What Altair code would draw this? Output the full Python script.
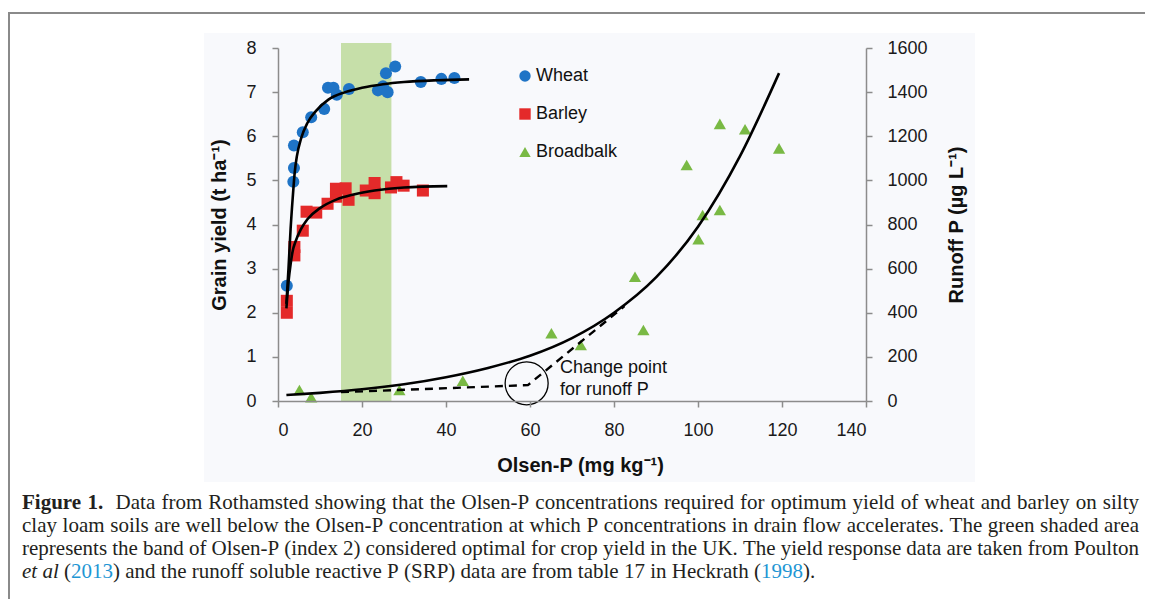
import altair as alt
import pandas as pd

# ---------------- data ----------------
wheat_x = [2.1, 3.65, 3.8, 3.8, 5.9, 7.9, 11.0, 11.9, 13.2, 14.0, 16.9, 23.8, 25.0, 26.1, 25.7, 27.9, 34.0, 38.9, 42.0]
wheat_y = [2.61, 4.97, 5.28, 5.79, 6.09, 6.43, 6.62, 7.10, 7.10, 6.94, 7.07, 7.04, 7.13, 7.00, 7.43, 7.58, 7.23, 7.30, 7.32]

barley_x = [2.1, 2.1, 3.9, 3.9, 5.9, 6.8, 9.1, 11.8, 13.8, 13.8, 16.1, 16.8, 20.9, 23.0, 23.0, 26.9, 28.2, 29.9, 34.5]
barley_y = [2.27, 2.0, 3.49, 3.30, 3.86, 4.29, 4.27, 4.47, 4.63, 4.81, 4.82, 4.56, 4.77, 4.94, 4.71, 4.84, 4.96, 4.88, 4.77]

broad_x = [5.1, 7.9, 28.9, 44.0, 65.1, 72.1, 85.0, 87.0, 97.3, 100.1, 101.1, 105.2, 105.2, 111.2, 119.3]
broad_y = [50, 17, 50, 92, 307, 254, 563, 322, 1070, 733, 843, 866, 1256, 1232, 1145]

# fitted curves
wheat_fit_x = [2.0, 2.5, 3.0, 3.5, 4.0, 4.5, 5.5, 7, 9, 12, 16, 20, 25, 30, 38, 45.5]
wheat_fit_y = [2.2, 3.0, 3.9, 4.6, 5.2, 5.55, 5.95, 6.3, 6.57, 6.83, 7.0, 7.1, 7.18, 7.23, 7.27, 7.29]
barley_fit_x = [2.0, 2.5, 3.0, 3.5, 4.2, 5.5, 7, 10, 14, 18, 23, 30, 40.3]
barley_fit_y = [2.1, 2.7, 3.1, 3.4, 3.62, 3.9, 4.12, 4.37, 4.57, 4.68, 4.77, 4.84, 4.87]
runoff_fit_x = [2, 10, 20, 30, 40, 50, 60, 70, 80, 90, 100, 110, 119.3]
runoff_fit_y = [27, 37, 53, 76, 108, 150, 205, 285, 400, 560, 790, 1110, 1486]
change_x = [15, 59.5, 82.5]
change_y = [40, 72, 430]
change_point = (59.2, 80)

band = [15, 27]
series = ["Wheat", "Barley", "Broadbalk"]
colors = ["#1f74c6", "#e42a2a", "#79b944"]
shapes = ["circle", "square", "triangle-up"]

x_ticks = list(range(0, 141, 20))
y_ticks = list(range(0, 9))
r_ticks = list(range(0, 1601, 200))

# caption: runs of (text, style)  n=normal b=bold i=italic l=link
caption_lines = [
    [("Figure 1.", "b"), ("  Data from Rothamsted showing that the Olsen-P concentrations required for optimum yield of wheat and barley on silty", "n")],
    [("clay loam soils are well below the Olsen-P concentration at which P concentrations in drain flow accelerates. The green shaded area", "n")],
    [("represents the band of Olsen-P (index 2) considered optimal for crop yield in the UK. The yield response data are taken from Poulton", "n")],
    [("et al", "i"), (" (", "n"), ("2013", "l"), (") and the runoff soluble reactive P (SRP) data are from table 17 in Heckrath (", "n"), ("1998", "l"), (").", "n")],
]

# ---------------- layout ----------------
W, H = 588, 353
SANS = "Liberation Sans"
SERIF = "Liberation Serif"
AX = "#8c8c8c"

color_scale = alt.Scale(domain=series, range=colors)
shape_scale = alt.Scale(domain=series, range=shapes)
legend = alt.Legend(orient="none", legendX=238, legendY=19, title=None,
                    labelFont=SANS, labelFontSize=18, labelColor="#111111",
                    symbolSize=130, rowPadding=20, labelOffset=2,
                    symbolStrokeWidth=0, symbolOpacity=1)

axis_common = dict(domainColor=AX, domainWidth=1.5, tickColor=AX, tickWidth=1.5, tickSize=6,
                   labelFont=SANS, labelFontSize=18, labelColor="#1a1a1a",
                   titleFont=SANS, titleFontSize=20, titleFontWeight="bold", titleColor="#111111",
                   grid=False, zindex=1)

X = alt.X("x:Q", scale=alt.Scale(domain=[0, 140], nice=False),
          axis=alt.Axis(values=x_ticks, title="Olsen-P (mg kg⁻¹)", labelPadding=14,
                        titlePadding=16, titleX=302, **axis_common))
YL = alt.Y("y:Q", scale=alt.Scale(domain=[0, 8], nice=False),
           axis=alt.Axis(orient="left", values=y_ticks, title="Grain yield (t ha⁻¹)",
                         labelPadding=16, titlePadding=16, **axis_common))
YR = alt.Y("y:Q", scale=alt.Scale(domain=[0, 1600], nice=False),
           axis=alt.Axis(orient="right", values=r_ticks, format="d", title="Runoff P (µg L⁻¹)",
                         labelPadding=15, titlePadding=39, titleAngle=270, **axis_common))

one = pd.DataFrame({"k": [0]})

# faint panel behind the figure
bg = alt.Chart(one).mark_rect(color="#f8f9fc").encode(
    x=alt.value(-74), x2=alt.value(697), y=alt.value(-15), y2=alt.value(434))

# green band
band_df = pd.DataFrame({"x": [band[0]], "x2": [band[1]]})
band_layer = alt.Chart(band_df).mark_rect(color="#c6dfa9").encode(
    x=X, x2="x2:Q", y=alt.value(-5), y2=alt.value(H))

# yield points
pts_left = pd.DataFrame({
    "x": wheat_x + barley_x,
    "y": wheat_y + barley_y,
    "s": ["Wheat"] * len(wheat_x) + ["Barley"] * len(barley_x),
})
left_pts = alt.Chart(pts_left).mark_point(filled=True, size=145, opacity=1).encode(
    x=X, y=YL,
    color=alt.Color("s:N", scale=color_scale, legend=legend),
    shape=alt.Shape("s:N", scale=shape_scale, legend=legend))

fits_left = pd.DataFrame({
    "x": wheat_fit_x + barley_fit_x,
    "y": wheat_fit_y + barley_fit_y,
    "c": ["w"] * len(wheat_fit_x) + ["b"] * len(barley_fit_x),
})
left_lines = alt.Chart(fits_left).mark_line(color="black", strokeWidth=2.6, interpolate="monotone").encode(
    x=X, y=YL, detail="c:N")

left = alt.layer(band_layer, left_pts, left_lines)

# runoff
pts_right = pd.DataFrame({"x": broad_x, "y": broad_y, "s": ["Broadbalk"] * len(broad_x)})
right_pts = alt.Chart(pts_right).mark_point(filled=True, size=150, opacity=1).encode(
    x=X, y=YR,
    color=alt.Color("s:N", scale=color_scale, legend=legend),
    shape=alt.Shape("s:N", scale=shape_scale, legend=legend))

runoff_df = pd.DataFrame({"x": runoff_fit_x, "y": runoff_fit_y})
runoff_line = alt.Chart(runoff_df).mark_line(color="black", strokeWidth=2.6, interpolate="monotone").encode(
    x=X, y=YR)

change_df = pd.DataFrame({"x": change_x, "y": change_y})
change_line = alt.Chart(change_df).mark_line(color="black", strokeWidth=2.4, strokeDash=[8, 6]).encode(
    x=X, y=YR)

cp_df = pd.DataFrame({"x": [change_point[0]], "y": [change_point[1]]})
cp_circle = alt.Chart(cp_df).mark_point(shape="circle", size=1850, filled=False,
                                         stroke="black", strokeWidth=1.3, opacity=1).encode(x=X, y=YR)

right = alt.layer(right_pts, runoff_line, change_line, cp_circle)

def txt(s, px, py, size=18, font=SANS, weight="normal", style="normal", color="#111111", align="left"):
    return alt.Chart(one).mark_text(text=s, font=font, fontSize=size, fontWeight=weight,
                                    fontStyle=style, color=color, align=align, baseline="middle").encode(
        x=alt.value(px), y=alt.value(py))

annot = [
    txt("Change point", 282, 320),
    txt("for runoff P", 282, 342),
]

# figure frame
frame = [
    alt.Chart(one).mark_rule(color="#8a8a8a", strokeWidth=2).encode(
        x=alt.value(-270), x2=alt.value(867), y=alt.value(-35)),
    alt.Chart(one).mark_rule(color="#8a8a8a", strokeWidth=2).encode(
        x=alt.value(-269), y=alt.value(-35), y2=alt.value(560)),
]

# ---------------- caption, fully justified using Times metrics ----------------
CAP = 21
CC = "#231f20"
BLUE = "#1e96d4"
TIMES = dict(zip("abcdefghijklmnopqrstuvwxyz",
                 [444, 500, 444, 500, 444, 333, 500, 500, 278, 278, 500, 278, 778,
                  500, 500, 500, 500, 333, 389, 278, 500, 500, 722, 500, 500, 444]))
TIMES.update(dict(zip("ABCDEFGHIJKLMNOPQRSTUVWXYZ",
                      [722, 667, 667, 722, 611, 556, 722, 722, 333, 389, 722, 611, 889,
                       722, 722, 556, 722, 667, 556, 611, 722, 722, 944, 722, 722, 611])))
TIMES.update({c: 500 for c in "0123456789"})
TIMES.update({".": 250, ",": 250, "(": 333, ")": 333, "-": 333, ":": 278, " ": 250})
ITAL = dict(TIMES, a=500, l=278, t=278, e=444)
BOLD = dict(TIMES, F=611, i=278, g=500, u=556, r=444, e=444)
BOLD.update({"1": 500, ".": 250})

def width(s, st):
    tab = BOLD if st == "b" else ITAL if st == "i" else TIMES
    return sum(tab.get(ch, 500) for ch in s) / 1000.0 * CAP

LEFT, RIGHT = -256, 861          # page x 22 .. 1139
rows = []
for li, runs in enumerate(caption_lines):
    pieces = []
    spaces = 0
    for text, st in runs:
        parts = text.split(" ")
        for i, p in enumerate(parts):
            if i > 0:
                spaces += 1
            if p:
                pieces.append([p, st, spaces if pieces else 0])
                spaces = 0
    total = sum(width(p, s) for p, s, _ in pieces)
    nsp = sum(g for _, _, g in pieces)
    last = li == len(caption_lines) - 1
    gap = width(" ", "n") if last else (RIGHT - LEFT - total) / nsp
    cx = LEFT
    for p, s, g in pieces:
        cx += g * gap
        rows.append({"text": p, "px": cx, "py": 455 + 23 * li, "st": s})
        cx += width(p, s)
cap_df = pd.DataFrame(rows)

style_props = {
    "n": dict(font=SERIF, fontWeight="normal", fontStyle="normal", color=CC),
    "b": dict(font=SERIF, fontWeight="bold", fontStyle="normal", color=CC),
    "i": dict(font=SERIF, fontWeight="normal", fontStyle="italic", color=CC),
    "l": dict(font=SERIF, fontWeight="normal", fontStyle="normal", color=BLUE),
}
cap_layers = []
for st, props in style_props.items():
    sub = cap_df[cap_df["st"] == st]
    cap_layers.append(
        alt.Chart(sub).mark_text(fontSize=CAP, align="left", baseline="middle", **props).encode(
            x=alt.X("px:Q", scale=None), y=alt.Y("py:Q", scale=None), text="text:N"))

chart = alt.layer(bg, left, right, *annot, *frame, *cap_layers).resolve_scale(y="independent").properties(
    width=W, height=H,
    autosize=alt.AutoSizeParams(type="none"),
    padding={"left": 270, "top": 40, "right": 279, "bottom": 198},
    background="white",
).configure_view(stroke=None)

chart.save("out.html", embed_options={"renderer": "svg", "actions": False})
